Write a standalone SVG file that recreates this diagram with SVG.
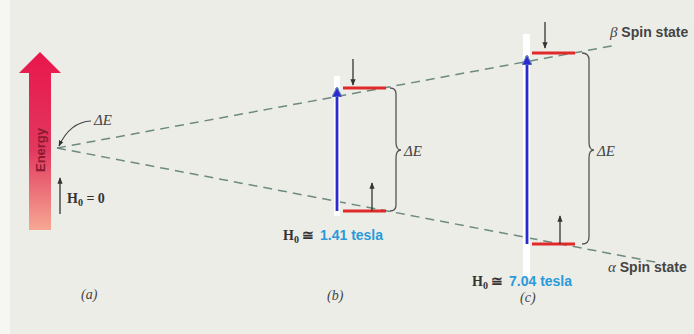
<svg xmlns="http://www.w3.org/2000/svg" width="694" height="334" viewBox="0 0 694 334">
<defs>
<linearGradient id="eg" x1="0" y1="0" x2="0" y2="1">
<stop offset="0" stop-color="#e8164c"/>
<stop offset="0.55" stop-color="#e2385e"/>
<stop offset="1" stop-color="#f6a894"/>
</linearGradient>
<marker id="ah" viewBox="0 0 10 10" refX="9" refY="5" markerWidth="5" markerHeight="5" orient="auto">
<path d="M0,1 L10,5 L0,9 z" fill="#333"/>
</marker>
<marker id="bh" viewBox="0 0 10 10" refX="9" refY="5" markerWidth="3.6" markerHeight="3.6" orient="auto">
<path d="M0,0 L10,5 L0,10 z" fill="#2a2ad0" stroke="#6a8ab0" stroke-width="1"/>
</marker>
<style>
.dash{stroke:#6d8a80;stroke-width:1.5;stroke-dasharray:9 6;fill:none}
.lvl{stroke:#e02a2a;stroke-width:3}
.sp{stroke:#333;stroke-width:1.3;marker-end:url(#ah)}
.blue{stroke:#2a2ad0;stroke-width:2.8;marker-end:url(#bh)}
.strip{fill:#ffffff}
.brace{fill:none;stroke:#555;stroke-width:1.3}
.de{font-family:"Liberation Serif",serif;font-style:italic;font-size:15px;fill:#444}
.h0{font-family:"Liberation Serif",serif;font-weight:bold;font-size:14px;fill:#333}
.tes{font-family:"Liberation Sans",sans-serif;font-weight:bold;font-size:14px;fill:#2a9ad8}
.spin{font-family:"Liberation Sans",sans-serif;font-weight:bold;font-size:14px;fill:#444}
.gr{font-family:"Liberation Serif",serif;font-style:italic;font-size:15px;fill:#444}
.cap{font-family:"Liberation Serif",serif;font-style:italic;font-size:14px;fill:#444}
</style>
</defs>
<rect width="694" height="334" fill="#edede8"/>
<rect x="0" y="0" width="10" height="334" fill="#f6f6f3"/>
<g id="connectors">
<path class="dash" d="M57,148 L617,45"/>
<path class="dash" d="M57,148 L660,263"/>
</g>
<g id="energy">
<path d="M29,230 L29,73 L19,73 L40,52 L61,73 L51,73 L51,230 z" fill="url(#eg)"/>
<text transform="translate(45,150) rotate(-90)" text-anchor="middle" font-family="Liberation Sans,sans-serif" font-weight="bold" font-size="13" fill="#8a1a30">Energy</text>
</g>
<g id="panel-a">
<line class="sp" x1="60" y1="214" x2="60" y2="178"/>
<text class="h0" x="67" y="203">H<tspan font-size="10" dy="3">0</tspan><tspan dy="-3"> = 0</tspan></text>
<text class="de" x="94" y="125">ΔE</text>
<path d="M91,121 Q70,122 59,146" fill="none" stroke="#444" stroke-width="1.2" marker-end="url(#ah)"/>
<text class="cap" x="81" y="299">(a)</text>
</g>
<g id="panel-b">
<rect class="strip" x="334" y="76" width="6" height="140"/>
<line class="blue" x1="337" y1="211" x2="337" y2="88"/>
<line class="lvl" x1="343" y1="88" x2="386" y2="88"/>
<line class="lvl" x1="343" y1="211" x2="386" y2="211"/>
<line class="sp" x1="353" y1="59" x2="353" y2="85"/>
<line class="sp" x1="372" y1="211" x2="372" y2="183"/>
<path class="brace" d="M390,88 Q396,88 396,94 L396,142 Q396,150 401,150 Q396,150 396,158 L396,205 Q396,211 390,211"/>
<text class="de" x="404" y="156">ΔE</text>
<text class="h0" x="283" y="240">H<tspan font-size="10" dy="3">0</tspan><tspan dy="-3"> ≅</tspan></text>
<text class="tes" x="320" y="240">1.41 tesla</text>
<text class="cap" x="327" y="300">(b)</text>
</g>
<g id="panel-c">
<rect class="strip" x="523" y="34" width="7" height="244"/>
<line class="blue" x1="527" y1="244" x2="527" y2="56"/>
<line class="lvl" x1="532" y1="53" x2="575" y2="53"/>
<line class="lvl" x1="532" y1="244" x2="575" y2="244"/>
<line class="sp" x1="545" y1="22" x2="545" y2="48"/>
<line class="sp" x1="560" y1="244" x2="560" y2="216"/>
<path class="brace" d="M582,53 Q589,53 589,60 L589,142 Q589,150 594,150 Q589,150 589,158 L589,237 Q589,244 582,244"/>
<text class="de" x="597" y="156">ΔE</text>
<text class="h0" x="472" y="286">H<tspan font-size="10" dy="3">0</tspan><tspan dy="-3"> ≅</tspan></text>
<text class="tes" x="509" y="286">7.04 tesla</text>
<text class="cap" x="520" y="302">(c)</text>
</g>
<g id="beta-label">
<text x="610" y="37"><tspan class="gr">β</tspan><tspan class="spin"> Spin state</tspan></text>
</g>
<g id="alpha-label">
<text x="608" y="272"><tspan class="gr">α</tspan><tspan class="spin"> Spin state</tspan></text>
</g>
</svg>
